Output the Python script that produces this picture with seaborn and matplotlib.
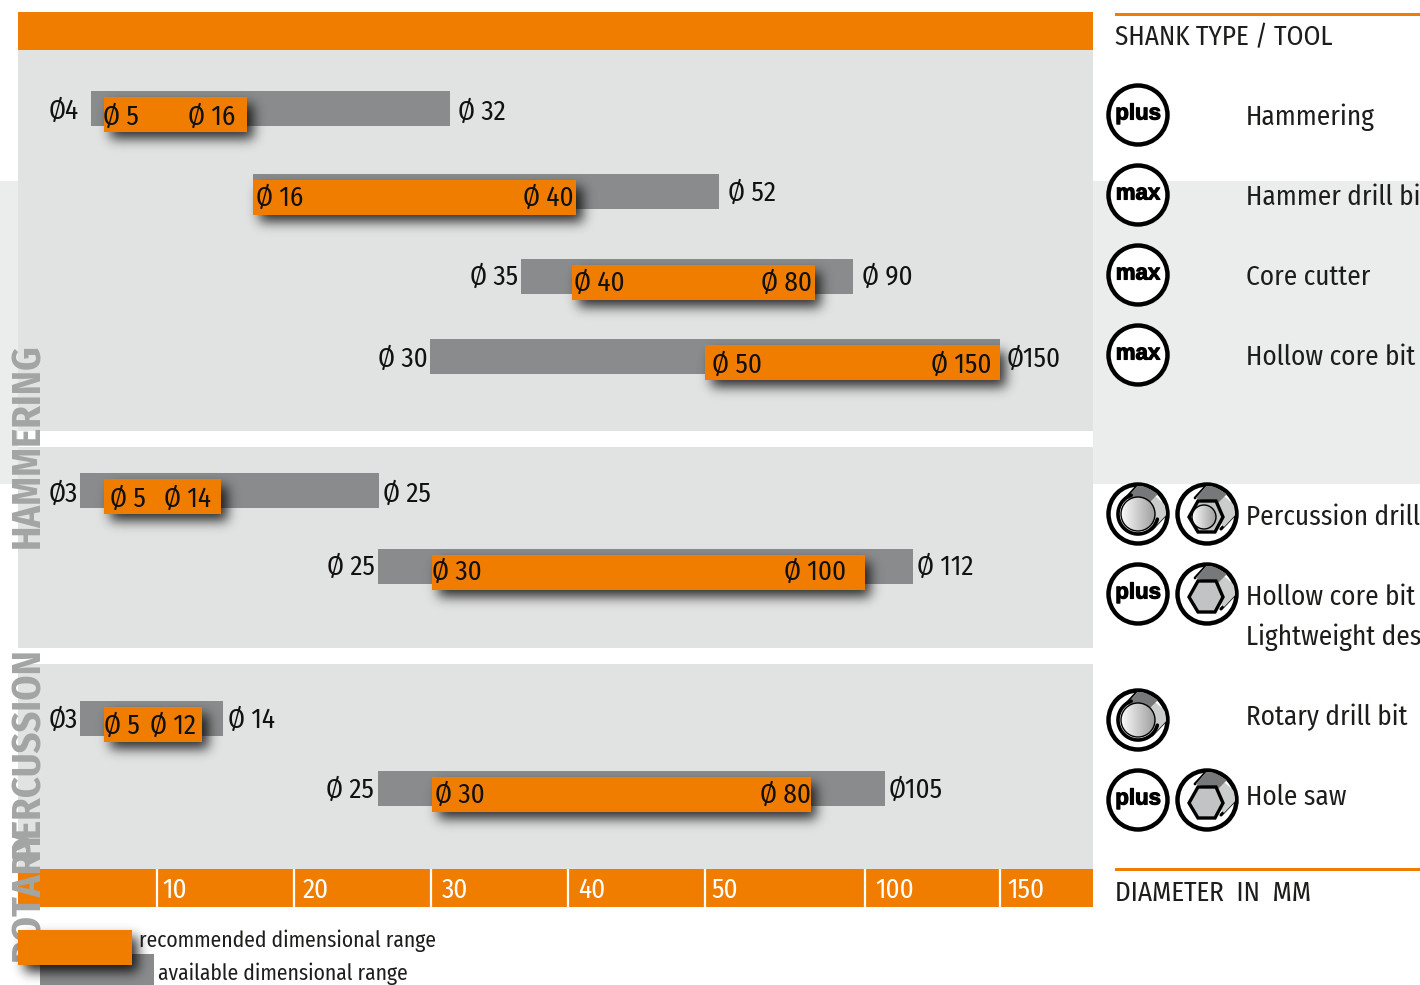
import math
import numpy as np
import pandas as pd
import matplotlib
matplotlib.use('Agg')
import matplotlib.pyplot as plt
import matplotlib.patheffects as pe
import seaborn as sns
from matplotlib import font_manager
from matplotlib.patches import Circle, Polygon, Rectangle
from matplotlib.transforms import ScaledTranslation

# bar ends in axis units
avail_lo = [5.2, 17.0, 36.6, 29.9, 4.4, 26.1, 4.4, 26.1]
avail_hi = [31.4, 54.4, 96.3, 150.0, 26.2, 117.8, 14.8, 107.4]
rec_lo = [6.1, 17.0, 40.3, 50.0, 6.1, 30.1, 6.1, 30.1]
rec_hi = [16.6, 40.6, 84.4, 150.0, 14.7, 100.0, 13.3, 83.1]

tick_values = [10, 20, 30, 40, 50, 100, 150]
tick_labels = ['10', '20', '30', '40', '50', '100', '150']
tick_pad = [5, 9, 11, 10, 6, 10, 7]

# the axis is not linear: it is stretched up to 50, then squeezed
scale_mm = [-1000, 0, 50, 100, 150, 1000]
scale_px = [-13680, 20, 705, 865, 1000, 3295]

row_y = [108.5, 191.5, 276.5, 356.5, 490.5, 566.5, 718.5, 788.5]
bar_h = 35
rec_shift = 6

value_text = ['Ø4', 'Ø 5', 'Ø 16', 'Ø 32', 'Ø 16', 'Ø 40', 'Ø 52', 'Ø 35', 'Ø 40', 'Ø 80', 'Ø 90',
              'Ø 30', 'Ø 50', 'Ø 150', 'Ø150', 'Ø3', 'Ø 5', 'Ø 14', 'Ø 25', 'Ø 25', 'Ø 30', 'Ø 100',
              'Ø 112', 'Ø3', 'Ø 5', 'Ø 12', 'Ø 14', 'Ø 25', 'Ø 30', 'Ø 80', 'Ø105']
value_x = [49, 103, 188, 458, 256, 523, 728, 470, 574, 761, 862, 378, 712, 931, 1007, 49, 110, 164, 383,
           327, 432, 784, 917, 49, 104, 150, 228, 326, 435, 760, 889]
value_y = [110, 116, 116, 111, 197, 197, 192, 276, 282, 282, 276, 358, 364, 364, 358, 493, 498, 498, 493,
           566, 571, 571, 566, 719, 725, 725, 719, 789, 794, 794, 789]

group_names = ['HAMMERING', 'PERCUSSION', 'ROTARY']
group_y = [343, 647, 827]

tool_names = ['Hammering', 'Hammer drill bit', 'Core cutter', 'Hollow core bit', 'Percussion drill bit',
              'Hollow core bit –', 'Lightweight design', 'Rotary drill bit', 'Hole saw']
tool_y = [116, 196, 276, 356, 516, 596, 636, 716, 796]

ORANGE = '#f07d00'
GREY = '#8a8b8c'
PANEL = '#e1e3e2'
STRIPE = '#ebedec'
INK = '#1d1d1b'

sns.set_theme(style='white')
names = {f.name for f in font_manager.fontManager.ttflist}
main_font = next(n for n in ['Fira Sans Condensed', 'Roboto Condensed', 'Open Sans', 'DejaVu Sans'] if n in names)
plt.rcParams['font.family'] = [main_font, 'DejaVu Sans']


def to_px(a):
    return np.interp(np.ravel(a), scale_mm, scale_px).reshape(np.shape(a))


def to_mm(a):
    return np.interp(np.ravel(a), scale_px, scale_mm).reshape(np.shape(a))


fig = plt.figure(figsize=(14.2, 9.85), dpi=100)
fig.patch.set_facecolor('white')

# background layer in plain pixels
bg = fig.add_axes([0, 0, 1, 1])
bg.set_xlim(0, 1420)
bg.set_ylim(985, 0)
bg.axis('off')


def box(x0, y0, x1, y1, color):
    bg.add_patch(Rectangle((x0, y0), x1 - x0, y1 - y0, fc=color, ec='none', lw=0))


box(0, 181, 18, 484, STRIPE)
box(1093, 181, 1420, 484, STRIPE)
box(18, 50, 1093, 431, PANEL)
box(18, 447, 1093, 648, PANEL)
box(18, 664, 1093, 869, PANEL)
box(18, 12, 1093, 50, ORANGE)
box(18, 869, 1093, 907, ORANGE)
box(1115, 13, 1420, 15.5, ORANGE)
box(1115, 868, 1420, 870.5, ORANGE)

# chart layer: same pixels vertically, diameter scale across
ax = fig.add_axes([18 / 1420, (985 - 907) / 985, 1075 / 1420, (907 - 50) / 985])
ax.patch.set_visible(False)
ax.set_xscale('function', functions=(to_px, to_mm))
xlim = (float(to_mm(18.0)), float(to_mm(1093.0)))
ylim = (907, 50)

rec_bars = []
for i in range(len(row_y)):
    df = pd.DataFrame({'span': [avail_hi[i] - avail_lo[i]], 'row': [row_y[i]]})
    n = len(ax.patches)
    sns.barplot(data=df, x='span', y='row', orient='y', native_scale=True, width=bar_h,
                left=avail_lo[i], color=GREY, saturation=1, ax=ax, legend=False, linewidth=0)
    for p in ax.patches[n:]:
        p.set_zorder(2)
    df = pd.DataFrame({'span': [rec_hi[i] - rec_lo[i]], 'row': [row_y[i] + rec_shift]})
    n = len(ax.patches)
    sns.barplot(data=df, x='span', y='row', orient='y', native_scale=True, width=bar_h,
                left=rec_lo[i], color=ORANGE, saturation=1, ax=ax, legend=False, linewidth=0)
    for p in ax.patches[n:]:
        p.set_zorder(4)
        rec_bars.append(p)

ax.set_xlim(*xlim)
ax.set_ylim(*ylim)
ax.set_xlabel('')
ax.set_ylabel('')
ax.yaxis.set_visible(False)
for s in ax.spines.values():
    s.set_visible(False)
ax.grid(False)
ax.set_xticks(tick_values)
ax.set_xticklabels(tick_labels)
ax.minorticks_off()
ax.tick_params(axis='x', direction='in', length=38 * 0.72, width=1.6, color='white',
               labelcolor='white', labelsize=19.5, pad=-6.5, bottom=True)
for lab, pad in zip(ax.get_xticklabels(), tick_pad):
    lab.set_ha('left')
    lab.set_va('baseline')
    lab.set_transform(lab.get_transform() + ScaledTranslation(pad / 100, 0, fig.dpi_scale_trans))

px = bg.transData
erf = np.vectorize(math.erf)


def shadow(target, x0, y0, x1, y1, zorder, sigma=6.0, dx=6, dy=7, strength=0.8):
    m = 20
    xs = np.arange(x0 + dx - m, x1 + dx + m)
    ys = np.arange(y0 + dy - m, y1 + dy + m)
    k = sigma * math.sqrt(2)
    ax_part = 0.5 * (erf((xs - x0 - dx) / k) - erf((xs - x1 - dx) / k))
    ay_part = 0.5 * (erf((ys - y0 - dy) / k) - erf((ys - y1 - dy) / k))
    img = np.zeros((len(ys), len(xs), 4))
    img[..., 3] = strength * np.outer(ay_part, ax_part)
    target.imshow(img, extent=(xs[0], xs[-1], ys[-1], ys[0]), transform=px, zorder=zorder,
                  aspect='auto', interpolation='bilinear', clip_on=False)


for p in rec_bars:
    e = p.get_window_extent()
    shadow(ax, e.x0, 985 - e.y1, e.x1, 985 - e.y0, 3)
ax.set_xlim(*xlim)
ax.set_ylim(*ylim)
ax.set_aspect('auto')

for t, x, y in zip(value_text, value_x, value_y):
    ax.text(x, y + 9, t, transform=px, fontsize=19.5, color='#111111', va='baseline', ha='left', zorder=6, clip_on=False)

for t, y in zip(group_names, group_y):
    ax.text(48, y, t, transform=px, fontsize=29, fontweight='bold', color='#a3a5a5', rotation=90,
            va='bottom', ha='right', rotation_mode='anchor', zorder=6, clip_on=False)

# top layer for the right column and the legend
top = fig.add_axes([0, 0, 1, 1])
top.set_xlim(0, 1420)
top.set_ylim(985, 0)
top.axis('off')
top.patch.set_visible(False)

top.text(1115, 45, 'SHANK TYPE / TOOL', fontsize=19.5, color=INK, va='baseline')
top.text(1115, 901, 'DIAMETER  IN  MM', fontsize=19.5, color=INK, va='baseline')
for t, y in zip(tool_names, tool_y):
    top.text(1246, y + 9, t, fontsize=19.5, color=INK, va='baseline')


def ring(cx, cy):
    top.add_patch(Circle((cx, cy), 29.5, fc='white', ec='black', lw=3.2, zorder=2))


def word_icon(cx, cy, word):
    ring(cx, cy)
    top.text(cx, cy - 1, word, fontsize=16, fontweight='bold', family='Liberation Sans', ha='center', va='center',
             color='black', zorder=3, path_effects=[pe.withStroke(linewidth=0.8, foreground='black')])


def shaft(cx, cy):
    clip = Circle((cx, cy), 28, transform=top.transData)
    light = Polygon([(cx - 11, cy - 16), (cx + 2, cy - 31), (cx + 33, cy - 4), (cx + 17, cy + 13)], fc='#cbcccc', ec='none', zorder=3)
    dark = Polygon([(cx - 11, cy - 16), (cx + 2, cy - 31), (cx + 20, cy - 20), (cx + 9, cy - 9)], fc='#77787a', ec='none', zorder=3)
    line1 = top.plot([cx + 14, cx + 31], [cy + 15, cy - 3], color='black', lw=2.2, zorder=3)[0]
    line2 = top.plot([cx - 12, cx + 1], [cy - 16, cy - 30], color='black', lw=2.0, zorder=3)[0]
    for a in [light, dark]:
        top.add_patch(a)
        a.set_clip_path(clip)
    line1.set_clip_path(clip)
    line2.set_clip_path(clip)


def gradient_disc(cx, cy, r, zorder=5):
    g = np.linspace(0.98, 0.62, 64)[None, :]
    im = top.imshow(g, cmap='gray', vmin=0, vmax=1, extent=(cx - r, cx + r, cy + r, cy - r), aspect='auto', zorder=zorder)
    im.set_clip_path(Circle((cx, cy), r, transform=top.transData))
    top.add_patch(Circle((cx, cy), r, fc='none', ec='black', lw=1.0, zorder=zorder + 1))


def round_icon(cx, cy):
    ring(cx, cy)
    shaft(cx, cy)
    t = np.radians(np.linspace(15, 250, 80))
    top.plot(cx + 20 * np.cos(t), cy + 20 * np.sin(t), color='black', lw=2.6, zorder=5)
    gradient_disc(cx, cy, 17)


def hex_icon(cx, cy, inner=False):
    ring(cx, cy)
    shaft(cx, cy)
    verts = np.array([(-18, 3), (-9, -13), (9, -13), (16, 3), (8, 18), (-9, 18)], dtype=float)
    top.add_patch(Polygon(verts + (cx, cy), closed=True, fc='#c2c3c4', ec='black', lw=2.4, zorder=4))
    if inner:
        gradient_disc(cx - 3, cy + 3, 12)


word_icon(1138, 115, 'plus')
word_icon(1138, 195, 'max')
word_icon(1138, 275, 'max')
word_icon(1138, 355, 'max')
round_icon(1138, 514)
hex_icon(1207, 514, inner=True)
word_icon(1138, 594, 'plus')
hex_icon(1207, 594)
round_icon(1138, 720)
word_icon(1138, 800, 'plus')
hex_icon(1207, 800)

# legend swatches, clipped by the page at the bottom
top.add_patch(Rectangle((40, 954), 114, 40, fc=GREY, ec='none', zorder=1))
shadow(top, 18, 930, 132, 965, 1.5, strength=0.85)
top.add_patch(Rectangle((18, 930), 114, 35, fc=ORANGE, ec='none', zorder=2))
top.text(139, 947, 'recommended dimensional range', fontsize=15.5, color=INK, va='baseline')
top.text(158, 980, 'available dimensional range', fontsize=15.5, color=INK, va='baseline')
top.set_xlim(0, 1420)
top.set_ylim(985, 0)
top.set_aspect('auto')

fig.savefig('out.png', dpi=100)
